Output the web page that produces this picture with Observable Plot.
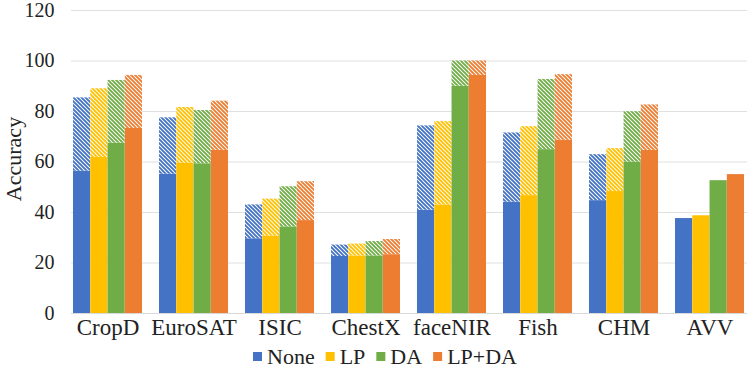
<!DOCTYPE html>
<html>
<head>
<meta charset="utf-8">
<script src="https://cdn.jsdelivr.net/npm/d3@7"></script>
<script src="https://cdn.jsdelivr.net/npm/@observablehq/plot@0.6"></script>
<style>
  html, body { margin: 0; padding: 0; background: #fff; }
  #wrap { width: 747px; height: 369px; overflow: hidden; }
  #wrap svg { display: block; }
  #wrap svg text { font-family: "Liberation Serif", "Times New Roman", serif !important; }
</style>
</head>
<body>
<div id="wrap"><div id="chart"></div><div id="legend"></div></div>
<script>
// ---- data ----
const categories = ["CropD", "EuroSAT", "ISIC", "ChestX", "faceNIR", "Fish", "CHM", "AVV"];
const seriesNames = ["None", "LP", "DA", "LP+DA"];
const seriesColors = ["#4472C4", "#FFC000", "#70AD47", "#ED7D31"];
const yTicks = [0, 20, 40, 60, 80, 100, 120];

// solid (lower) values
const solidNone = [56.4, 55.2, 29.6, 22.6, 40.9, 44.1, 44.7, 37.6];
const solidLP   = [61.8, 59.6, 30.7, 22.8, 43.0, 46.7, 48.3, 38.7];
const solidDA   = [67.5, 59.3, 34.3, 22.8, 90.0, 64.9, 60.0, 52.6];
const solidLPDA = [73.3, 64.6, 36.8, 23.3, 94.3, 68.6, 64.6, 55.0];

// hatched (upper) values
const hatchNone = [85.4, 77.5, 43.0, 27.1, 74.3, 71.5, 62.9, null];
const hatchLP   = [89.0, 81.6, 45.3, 27.5, 76.0, 74.0, 65.3, null];
const hatchDA   = [92.3, 80.4, 50.2, 28.5, 100.0, 92.7, 79.9, null];
const hatchLPDA = [94.3, 84.1, 52.2, 29.3, 100.0, 94.6, 82.6, null];

const solidVals = [solidNone, solidLP, solidDA, solidLPDA];
const hatchVals = [hatchNone, hatchLP, hatchDA, hatchLPDA];

const rows = seriesNames.flatMap((s, si) =>
  categories.map((c, ci) => ({category: c, series: s, si, low: solidVals[si][ci], high: hatchVals[si][ci]}))
);

const FONT = "'Liberation Serif', 'Times New Roman', serif";

// ---- layout ----
const xRange = [62.5, 753.5];
const padInner = 0.2, padOuter = 0.1;
const step = (xRange[1] - xRange[0]) / (categories.length - padInner + 2 * padOuter);
const bw = step * (1 - padInner);
const w = bw / seriesNames.length;

const marks = [
  Plot.ruleY(yTicks.filter(t => t > 0), {stroke: "#e0e0e0", strokeWidth: 1}),
  Plot.ruleY([0], {stroke: "#d9d9d9", strokeWidth: 1})
];
seriesNames.forEach((s, si) => {
  const data = rows.filter(r => r.si === si);
  marks.push(Plot.barY(data, {x: "category", y1: 0, y2: "low", fill: seriesColors[si],
    insetLeft: si * w, insetRight: (seriesNames.length - 1 - si) * w}));
  marks.push(Plot.barY(data.filter(r => r.high != null), {x: "category", y1: "low", y2: "high",
    fill: `url(#hatch${si})`, insetLeft: si * w, insetRight: (seriesNames.length - 1 - si) * w}));
});
marks.push(Plot.axisX({fontSize: 23, tickSize: 0, tickPadding: 5, label: null, fill: "#222"}));
marks.push(Plot.axisY({ticks: yTicks, fontSize: 20, tickSize: 0, tickPadding: 17, label: null, fill: "#222"}));
marks.push(Plot.text(["Accuracy"], {text: d => d, frameAnchor: "left", textAnchor: "middle", rotate: -90, dx: -58, dy: -3, fontSize: 22, fill: "#222"}));

const chart = Plot.plot({
  width: 747,
  height: 340,
  marginLeft: 71,
  marginRight: 0,
  marginTop: 10,
  marginBottom: 27,
  style: {fontFamily: FONT, background: "white", overflow: "hidden"},
  x: {domain: categories, range: xRange, paddingInner: padInner, paddingOuter: padOuter},
  y: {domain: [0, 120]},
  marks
});

// hatch patterns
const svgEl = chart.tagName.toLowerCase() === "svg" ? chart : chart.querySelector("svg");
const ns = "http://www.w3.org/2000/svg";
const defs = document.createElementNS(ns, "defs");
seriesColors.forEach((col, si) => {
  const p = document.createElementNS(ns, "pattern");
  p.setAttribute("id", `hatch${si}`);
  p.setAttribute("patternUnits", "userSpaceOnUse");
  p.setAttribute("width", "4");
  p.setAttribute("height", "4");
  const bg = document.createElementNS(ns, "rect");
  bg.setAttribute("width", "4"); bg.setAttribute("height", "4"); bg.setAttribute("fill", "white");
  p.appendChild(bg);
  const path = document.createElementNS(ns, "path");
  path.setAttribute("d", "M-1,-1L5,5M3,-1L5,1M-1,3L1,5");
  path.setAttribute("stroke", col);
  path.setAttribute("stroke-width", "1.9");
  p.appendChild(path);
  defs.appendChild(p);
});
svgEl.insertBefore(defs, svgEl.firstChild);
document.getElementById("chart").appendChild(chart);

// legend (SVG below the plot)
const lg = d3.select("#legend").append("svg")
  .attr("width", 747).attr("height", 29);
let lx = 253;
seriesNames.forEach((s, si) => {
  lg.append("rect").attr("x", lx).attr("y", 12).attr("width", 9).attr("height", 9).attr("fill", seriesColors[si]);
  const t = lg.append("text").attr("x", lx + 14).attr("y", 24).attr("fill", "#222")
    .attr("font-family", FONT).attr("font-size", 22).text(s);
  lx += 14 + t.node().getComputedTextLength() + 11;
});
</script>
</body>
</html>
